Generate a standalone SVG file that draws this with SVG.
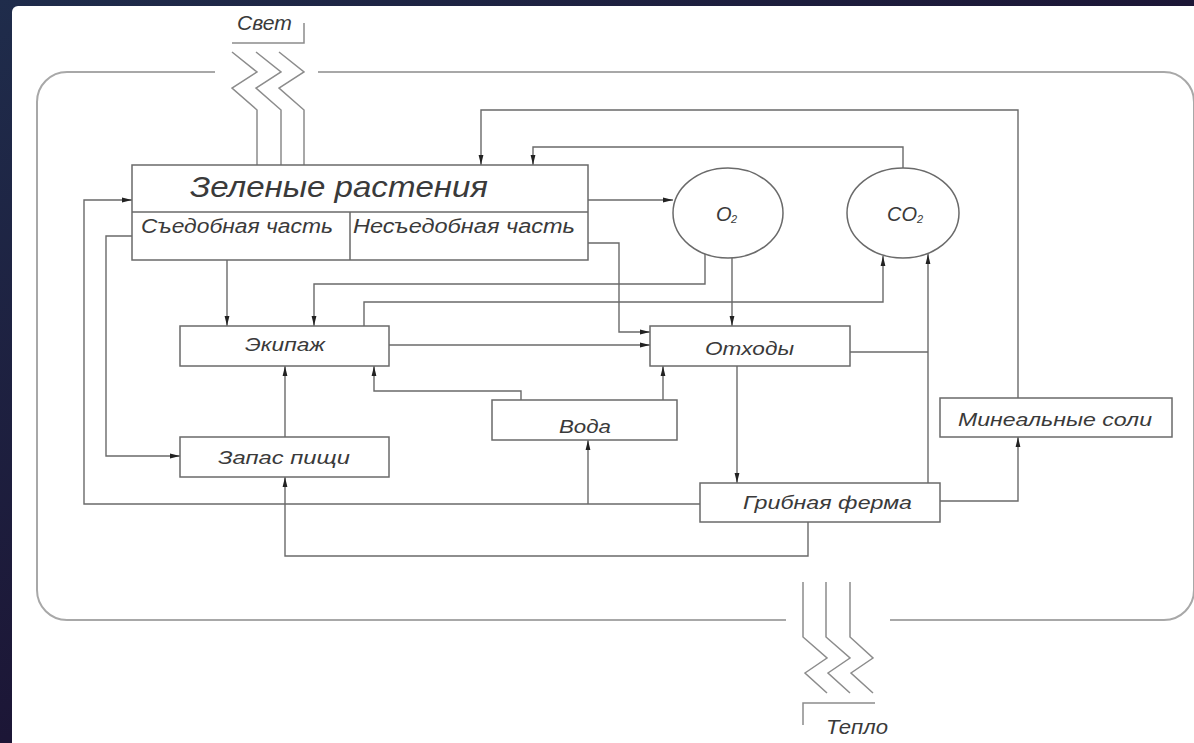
<svg xmlns="http://www.w3.org/2000/svg" width="1194" height="743" viewBox="0 0 1194 743">
<defs>
<linearGradient id="bg" x1="0" y1="0" x2="1" y2="1">
<stop offset="0" stop-color="#1f2c4b"/>
<stop offset="0.5" stop-color="#1c1636"/>
<stop offset="1" stop-color="#1a0c26"/>
</linearGradient>
<marker id="arr" viewBox="0 0 10 6" refX="10" refY="3" markerWidth="10" markerHeight="6" markerUnits="userSpaceOnUse" orient="auto">
<path d="M0,0.6 L10,3 L0,5.4 Z" fill="#222"/>
</marker>
<style>
.t{font-family:"Liberation Sans","DejaVu Sans",sans-serif;font-style:italic;fill:#3a3a3a;}
.box{fill:none;stroke:#6a6a6a;stroke-width:1.5;}
.c{fill:none;stroke:#6a6a6a;stroke-width:1.4;}
.a{marker-end:url(#arr);}
.frame{fill:none;stroke:#a8a8a8;stroke-width:2;}
.heat{fill:none;stroke:#8c8c8c;stroke-width:1.5;}
</style>
</defs>
<rect x="0" y="0" width="1194" height="743" fill="url(#bg)"/>
<rect x="12" y="6" width="1200" height="760" rx="6" fill="#ffffff"/>

<g id="frame">
<path class="frame" d="M215,72 H67 A30,30 0 0 0 37,102 V590 A30,30 0 0 0 67,620 H786"/>
<path class="frame" d="M318,72 H1164 A30,30 0 0 1 1194,102 V590 A30,30 0 0 1 1164,620 H890"/>
</g>

<g id="light">
<path class="heat" d="M232,52 L257,72 L232,88 L257,110 V165"/>
<path class="heat" d="M256,52 L281,72 L256,88 L281,110 V165"/>
<path class="heat" d="M279,52 L304,72 L279,88 L304,110 V165"/>
<path class="heat" d="M232,43 H304 V23"/>
<text class="t" x="237" y="30" font-size="20" textLength="55" lengthAdjust="spacingAndGlyphs">Свет</text>
</g>

<g id="heat">
<path class="heat" d="M803,582 V637 L827,658 L805,673 L827,693"/>
<path class="heat" d="M826,582 V637 L850,658 L828,673 L850,693"/>
<path class="heat" d="M850,582 V637 L873,658 L851,673 L873,693"/>
<path class="heat" d="M803,725 V703 H875"/>
<text class="t" x="826" y="734" font-size="20" textLength="62" lengthAdjust="spacingAndGlyphs">Тепло</text>
</g>

<g id="connectors">
<path class="c a" d="M1018,398 V110 H481 V165"/>
<path class="c a" d="M903,168 V147 H533 V165"/>
<path class="c a" d="M588,200 H673"/>
<path class="c a" d="M588,243 H619 V332 H650"/>
<path class="c a" d="M705,254 V284 H314 V326"/>
<path class="c a" d="M732,258 V326"/>
<path class="c a" d="M364,326 V302 H883 V256"/>
<path class="c a" d="M227,260 V326"/>
<path class="c a" d="M389,345 H650"/>
<path class="c" d="M850,352 H928"/>
<path class="c a" d="M928,483 V254"/>
<path class="c a" d="M737,366 V483"/>
<path class="c a" d="M940,501 H1018 V437"/>
<path class="c a" d="M700,504 H84 V200 H132"/>
<path class="c a" d="M132,236 H106 V456 H180"/>
<path class="c a" d="M808,522 V556 H285 V477"/>
<path class="c a" d="M588,504 V440"/>
<path class="c a" d="M285,437 V366"/>
<path class="c a" d="M521,400 V391 H374 V366"/>
<path class="c a" d="M663,400 V366"/>
</g>

<g id="plants">
<rect class="box" x="132" y="165" width="456" height="95"/>
<path class="box" d="M132,212 H588 M350,212 V260"/>
<text class="t" x="190" y="197" font-size="30" textLength="298" lengthAdjust="spacingAndGlyphs">Зеленые растения</text>
<text class="t" x="141" y="233" font-size="20" textLength="192" lengthAdjust="spacingAndGlyphs">Съедобная часть</text>
<text class="t" x="353" y="233" font-size="20" textLength="222" lengthAdjust="spacingAndGlyphs">Несъедобная часть</text>
</g>

<g id="o2">
<ellipse class="box" cx="728" cy="213" rx="55" ry="45"/>
<text class="t" x="716" y="221" font-size="20">O</text>
<text class="t" x="731" y="223" font-size="11">2</text>
</g>

<g id="co2">
<ellipse class="box" cx="903" cy="213" rx="56" ry="45"/>
<text class="t" x="887" y="221" font-size="20" textLength="30" lengthAdjust="spacingAndGlyphs">CO</text>
<text class="t" x="917" y="223" font-size="11">2</text>
</g>

<g id="crew">
<rect class="box" x="180" y="326" width="209" height="40"/>
<text class="t" x="245" y="351" font-size="19" textLength="80" lengthAdjust="spacingAndGlyphs">Экипаж</text>
</g>

<g id="waste">
<rect class="box" x="650" y="326" width="200" height="40"/>
<text class="t" x="705" y="355" font-size="19" textLength="89" lengthAdjust="spacingAndGlyphs">Отходы</text>
</g>

<g id="water">
<rect class="box" x="492" y="400" width="185" height="40"/>
<text class="t" x="559" y="433" font-size="19" textLength="52" lengthAdjust="spacingAndGlyphs">Вода</text>
</g>

<g id="salts">
<rect class="box" x="940" y="398" width="232" height="39"/>
<text class="t" x="958" y="426" font-size="19" textLength="194" lengthAdjust="spacingAndGlyphs">Минеальные соли</text>
</g>

<g id="food">
<rect class="box" x="180" y="437" width="209" height="40"/>
<text class="t" x="218" y="464" font-size="19" textLength="132" lengthAdjust="spacingAndGlyphs">Запас пищи</text>
</g>

<g id="mushroom">
<rect class="box" x="700" y="483" width="240" height="39"/>
<text class="t" x="743" y="509" font-size="19" textLength="169" lengthAdjust="spacingAndGlyphs">Грибная ферма</text>
</g>
</svg>
